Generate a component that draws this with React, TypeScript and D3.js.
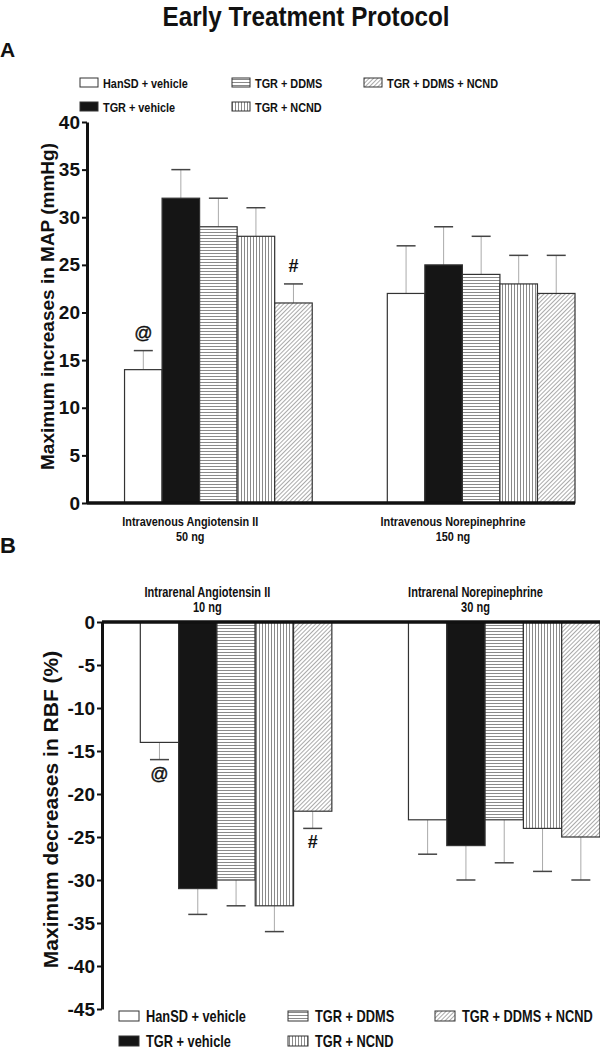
import React, { useEffect, useRef } from "react";
import * as d3 from "d3";

// series and groups
const seriesNames = ["HanSD + vehicle", "TGR + vehicle", "TGR + DDMS", "TGR + NCND", "TGR + DDMS + NCND"];
const groupsA = [["Intravenous Angiotensin II", "50 ng"], ["Intravenous Norepinephrine", "150 ng"]];
const groupsB = [["Intrarenal Angiotensin II", "10 ng"], ["Intrarenal Norepinephrine", "30 ng"]];

// panel A: max increase in MAP (mmHg)
const mapMean = [[14, 32, 29, 28, 21], [22, 25, 24, 23, 22]];
const mapErr = [[2, 3, 3, 3, 2], [5, 4, 4, 3, 4]];
// panel B: max decrease in RBF (%)
const rbfMean = [[-14, -31, -30, -33, -22], [-23, -26, -23, -24, -25]];
const rbfErr = [[2, 3, 3, 3, 2], [4, 4, 5, 5, 5]];

const ticksA = [0, 5, 10, 15, 20, 25, 30, 35, 40];
const ticksB = [0, -5, -10, -15, -20, -25, -30, -35, -40, -45];

// significance marks: [group, series, symbol]
const marksA: [number, number, string][] = [[0, 0, "@"], [0, 4, "#"]];
const marksB: [number, number, string][] = [[0, 0, "@"], [0, 4, "#"]];

const FONT = "'Liberation Sans', Arial, sans-serif";
const fills = ["#fff", "#151515", "url(#hstripe)", "url(#vstripe)", "url(#diag)"];

function NText(props: { x: number; y: number; size: number; anchor?: string; children: any }) {
  return (
    <g transform={`translate(${props.x},${props.y}) scale(0.8,1)`}>
      <text textAnchor={props.anchor || "start"} fontSize={props.size} fontWeight="bold" fontFamily={FONT} fill="#111">
        {props.children}
      </text>
    </g>
  );
}

function YAxis({ scale, x, ticks }: { scale: any; x: number; ticks: number[] }) {
  const ref = useRef<SVGGElement>(null);
  useEffect(() => {
    const g = d3.select(ref.current);
    g.call(d3.axisLeft(scale).tickValues(ticks).tickSize(5).tickSizeOuter(0).tickPadding(2)
      .tickFormat((d: any) => String(d)) as any);
    g.select(".domain").attr("stroke", "#111").attr("stroke-width", 3);
    g.selectAll(".tick line").attr("stroke", "#111").attr("stroke-width", 2);
    g.selectAll(".tick text")
      .attr("font-size", 19)
      .attr("font-weight", "bold")
      .attr("font-family", FONT)
      .attr("fill", "#111");
  }, [scale, ticks]);
  return <g ref={ref} transform={`translate(${x},0)`} />;
}

function Panel(props: {
  x0: number; x1: number; yTop: number; yBot: number; domain: [number, number];
  means: number[][]; errs: number[][]; ticks: number[]; groups: string[][];
  marks: [number, number, string][]; labelY: number; labelSize: number; title: string; titleX: number; titleSize: number;
}) {
  const { means, errs } = props;
  // domain[0] sits at yBot, domain[1] at yTop
  const y = d3.scaleLinear().domain(props.domain).range([props.yBot, props.yTop]);
  const slot = d3.scaleLinear().domain([0, 13]).range([props.x0, props.x1]);
  const groupStart = (g: number) => slot(1 + 7 * g);
  const xs = d3.scaleBand().domain(seriesNames).range([0, slot(5) - slot(0)]);
  const w = xs.bandwidth();
  const y0 = y(0);
  const neg = props.domain[0] < 0;
  const midY = (y(props.domain[0]) + y(props.domain[1])) / 2;
  return (
    <g>
      {means.map((row, gi) =>
        row.map((v, si) => {
          const bx = groupStart(gi) + (xs(seriesNames[si]) as number);
          const top = Math.min(y(v), y0);
          const h = Math.abs(y(v) - y0);
          const ev = neg ? v - errs[gi][si] : v + errs[gi][si];
          const cx = bx + w / 2;
          return (
            <g key={`${gi}-${si}`}>
              <line x1={cx} x2={cx} y1={y(v)} y2={y(ev)} stroke="#aaa" strokeWidth={1} />
              <line x1={cx - 9.5} x2={cx + 9.5} y1={y(ev)} y2={y(ev)} stroke="#444" strokeWidth={1.5} />
              <rect x={bx} y={top} width={w} height={h} fill={fills[si]} stroke="#333" strokeWidth={1.2} />
            </g>
          );
        })
      )}
      {props.marks.map(([gi, si, m]) => {
        const v = means[gi][si];
        const ev = neg ? v - errs[gi][si] : v + errs[gi][si];
        const cx = groupStart(gi) + (xs(seriesNames[si]) as number) + w / 2;
        const ty = neg ? y(ev) + 20 : y(ev) - 12;
        return (
          <text key={m + gi + si} x={cx} y={ty} textAnchor="middle" fontSize={18}
            fontWeight={m === "#" ? "bold" : "normal"} fontFamily={FONT} fill="#111"
            stroke={m === "@" ? "#111" : "none"} strokeWidth={0.4}>{m}</text>
        );
      })}
      <line x1={props.x0} x2={props.x1} y1={y0} y2={y0} stroke="#111" strokeWidth={3.5} />
      <YAxis scale={y} x={props.x0} ticks={props.ticks} />
      {props.groups.map((lab, gi) => {
        const lx = groupStart(gi) + (slot(1.75) - slot(0));
        return (
          <g key={lab[0]}>
            <NText x={lx} y={props.labelY} size={props.labelSize} anchor="middle">{lab[0]}</NText>
            <NText x={lx} y={props.labelY + 15} size={props.labelSize} anchor="middle">{lab[1]}</NText>
          </g>
        );
      })}
      <text transform={`translate(${props.titleX},${midY - 6}) rotate(-90)`} textAnchor="middle"
        fontSize={props.titleSize} fontWeight="bold" fontFamily={FONT} fill="#111">{props.title}</text>
    </g>
  );
}

function Legend(props: { cols: number[]; rows: number[]; sw: number; sh: number; size: number; gap: number }) {
  return (
    <g>
      {seriesNames.map((s, i) => {
        const x = props.cols[Math.floor(i / 2)];
        const yb = props.rows[i % 2];
        return (
          <g key={s}>
            <rect x={x} y={yb - props.sh} width={props.sw} height={props.sh} fill={fills[i]} stroke="#333" strokeWidth={1} />
            <NText x={x + props.sw + props.gap} y={yb + 0.5} size={props.size}>{s}</NText>
          </g>
        );
      })}
    </g>
  );
}

export default function App() {
  return (
    <svg width={600} height={1050} style={{ position: "absolute", left: 0, top: 0, background: "#fff" }}>
      <defs>
        <pattern id="hstripe" width={4} height={3} patternUnits="userSpaceOnUse">
          <rect width={4} height={3} fill="#fff" />
          <line x1={0} x2={4} y1={1.5} y2={1.5} stroke="#8a8a8a" strokeWidth={1} />
        </pattern>
        <pattern id="vstripe" width={3} height={4} patternUnits="userSpaceOnUse">
          <rect width={3} height={4} fill="#fff" />
          <line x1={1.5} x2={1.5} y1={0} y2={4} stroke="#8a8a8a" strokeWidth={1} />
        </pattern>
        <pattern id="diag" width={3} height={6} patternUnits="userSpaceOnUse" patternTransform="rotate(45)">
          <rect width={3} height={6} fill="#fff" />
          <line x1={1.5} x2={1.5} y1={0} y2={6} stroke="#a0a0a0" strokeWidth={0.9} />
        </pattern>
      </defs>
      <text x={306} y={26} textAnchor="middle" fontSize={28} fontWeight="bold" fontFamily={FONT} fill="#111"
        textLength={287} lengthAdjust="spacingAndGlyphs">Early Treatment Protocol</text>
      <text x={0} y={57} fontSize={21} fontWeight="bold" fontFamily={FONT} fill="#111">A</text>
      <text x={0} y={553} fontSize={22} fontWeight="bold" fontFamily={FONT} fill="#111">B</text>

      <Legend cols={[80, 232, 364]} rows={[87, 111]} sw={18} sh={9} size={13.6} gap={5} />
      <Panel x0={87} x1={575} yTop={122} yBot={503} domain={[0, 40]} means={mapMean} errs={mapErr}
        ticks={ticksA} groups={groupsA} marks={marksA} labelY={526} labelSize={13.6}
        title="Maximum increases in MAP (mmHg)" titleX={54} titleSize={19} />

      <Panel x0={102} x1={600} yTop={622} yBot={1009} domain={[-45, 0]} means={rbfMean} errs={rbfErr}
        ticks={ticksB} groups={groupsB} marks={marksB} labelY={597} labelSize={13.8}
        title="Maximum decreases in RBF (%)" titleX={58} titleSize={21} />
      <Legend cols={[119, 288, 435]} rows={[1021, 1046]} sw={20} sh={10} size={16} gap={7} />
    </svg>
  );
}
